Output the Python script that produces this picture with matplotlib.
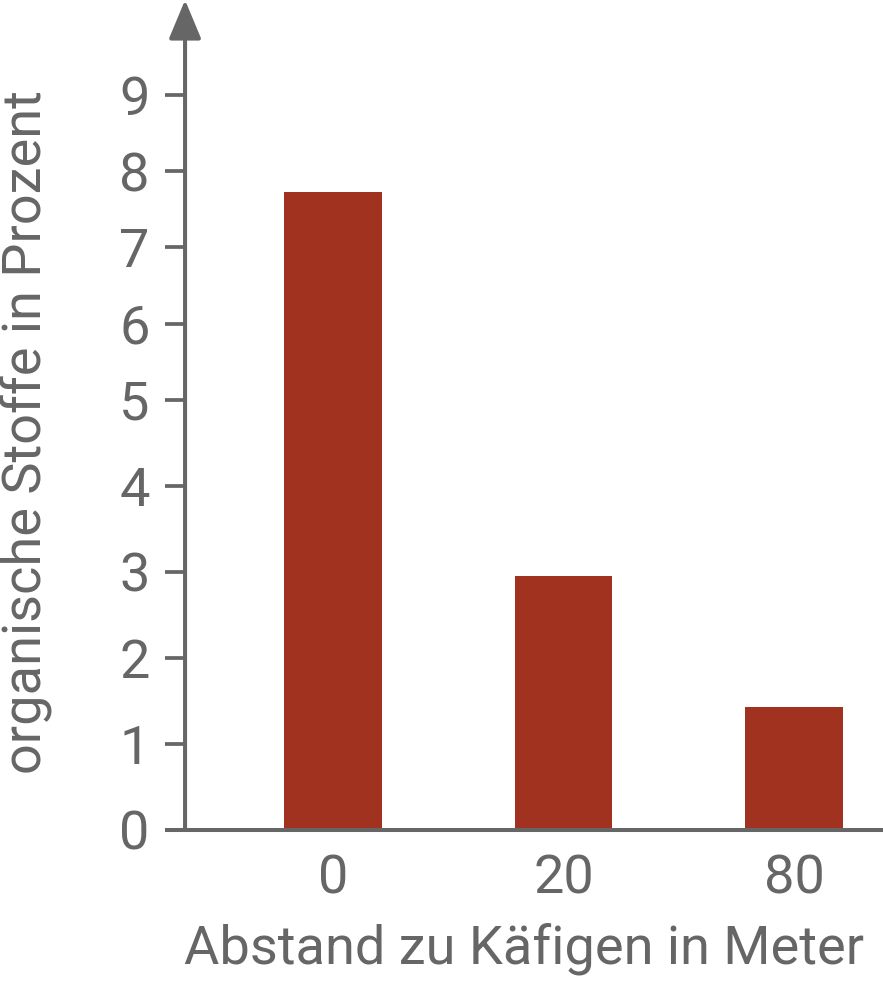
import numpy as np
import matplotlib
matplotlib.use("Agg")
import matplotlib.pyplot as plt

# data
categories = ["0", "20", "80"]
values = [7.73, 2.95, 1.43]
yticks = [0, 1, 2, 3, 4, 5, 6, 7, 8, 9]

grey = "#666666"
bar_color = "#A0321F"
plt.rcParams["font.family"] = ["Roboto", "DejaVu Sans"]

# the original axis is drawn with a tighter step above 5
step_ratio = 0.887


def fwd(y):
    y = np.asarray(y, dtype=float)
    return np.where(y <= 5, y, 5 + (y - 5) * step_ratio)


def inv(s):
    s = np.asarray(s, dtype=float)
    return np.where(s <= 5, s, 5 + (s - 5) / step_ratio)


fig = plt.figure(figsize=(8.83, 9.81), dpi=100)
ax = fig.add_axes([165 / 883, 151 / 981, 1 - 165 / 883, 830 / 981])

x = np.arange(len(categories))
ax.bar(x, values, width=0.423, color=bar_color, zorder=2)

ax.set_yscale("function", functions=(fwd, inv))
ax.set_xlim(-0.729, 2.386)
ax.set_ylim(0, 10.243)
x_axis = -0.642

# spines
for s in ["top", "right"]:
    ax.spines[s].set_visible(False)
ax.spines["left"].set_position(("data", x_axis))
ax.spines["left"].set_visible(False)
ax.spines["bottom"].set_color(grey)
ax.spines["bottom"].set_linewidth(2.9)
ax.spines["bottom"].set_capstyle("butt")

# y axis with arrow
ax.annotate("", xy=(x_axis, 1.0), xytext=(x_axis, 0.0),
            xycoords=("data", "axes fraction"), textcoords=("data", "axes fraction"),
            arrowprops=dict(arrowstyle="-|>,head_length=24,head_width=10",
                            mutation_scale=1, color=grey, lw=2.9,
                            shrinkA=0, shrinkB=0), annotation_clip=False)

ax.set_yticks(yticks)
ax.set_yticklabels([str(t) for t in yticks])
ax.yaxis.set_minor_locator(matplotlib.ticker.NullLocator())
ax.tick_params(axis="y", length=14.4, width=2.7, color=grey, labelcolor=grey,
               labelsize=39, pad=11)
ax.set_xticks(x)
ax.set_xticklabels(categories)
ax.tick_params(axis="x", length=0, labelcolor=grey, labelsize=39, pad=17)

ax.set_xlabel("Abstand zu Käfigen in Meter", fontsize=39, color=grey, labelpad=13)
ax.set_ylabel("organische Stoffe in Prozent", fontsize=39, color=grey)
ax.yaxis.set_label_coords(-0.157, 0.48)

fig.savefig("out.png", dpi=100)
